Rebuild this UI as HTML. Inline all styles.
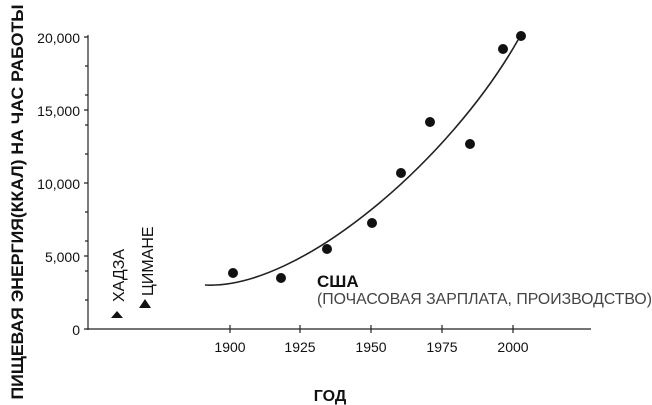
<!DOCTYPE html><html><head><meta charset="utf-8"><style>body{margin:0;background:#fff}svg{display:block}text{font-family:"Liberation Sans",sans-serif;fill:#111}</style></head><body>
<svg width="652" height="405" viewBox="0 0 652 405">
<g stroke="#222" stroke-width="1.2" fill="none">
<line x1="88" y1="35" x2="88" y2="330"/>
<line x1="88" y1="329" x2="591" y2="329"/>
<path d="M84 37H88M84 256H88M84 183H88M84 110H88M84 329H88M85 66H88M85 95H88M85 125H88M85 154H88M85 212H88M85 241H88M85 271H88M85 300H88"/>
<path d="M230 325V333M300 325V333M371 325V333M442 325V333M513 325V333"/>
<path d="M205 285 C300 290 450 160 518 40" stroke-width="1.6"/>
</g>
<g font-size="14" text-anchor="end"><text x="80" y="43">20,000</text><text x="80" y="116">15,000</text><text x="80" y="189">10,000</text><text x="80" y="262">5,000</text><text x="80" y="335">0</text></g>
<g font-size="14" text-anchor="middle"><text x="230" y="352">1900</text><text x="300" y="352">1925</text><text x="371" y="352">1950</text><text x="442" y="352">1975</text><text x="513" y="352">2000</text></g>
<g fill="#111"><circle cx="233" cy="273" r="5"/><circle cx="281" cy="278" r="5"/><circle cx="327" cy="249" r="5"/><circle cx="372" cy="223" r="5"/><circle cx="401" cy="173" r="5"/><circle cx="430" cy="122" r="5"/><circle cx="470" cy="144" r="5"/><circle cx="503" cy="49" r="5"/><circle cx="521" cy="36" r="5"/>
<path d="M117 311L123 318H111Z"/><path d="M145 299L151 308H139Z"/></g>
<text x="317" y="287" font-size="17" font-weight="bold">США</text>
<text x="317" y="304" font-size="16" textLength="335" lengthAdjust="spacingAndGlyphs" style="fill:#444">(ПОЧАСОВАЯ ЗАРПЛАТА, ПРОИЗВОДСТВО)</text>
<text transform="translate(124,302) rotate(-90)" font-size="16">ХАДЗА</text>
<text transform="translate(153,296) rotate(-90)" font-size="16">ЦИМАНЕ</text>
<text transform="translate(23,202) rotate(-90)" font-size="17" font-weight="bold" text-anchor="middle" textLength="395" lengthAdjust="spacingAndGlyphs">ПИЩЕВАЯ ЭНЕРГИЯ(ККАЛ) НА ЧАС РАБОТЫ</text>
<text x="330" y="401" font-size="16" font-weight="bold" text-anchor="middle">ГОД</text>
</svg></body></html>
